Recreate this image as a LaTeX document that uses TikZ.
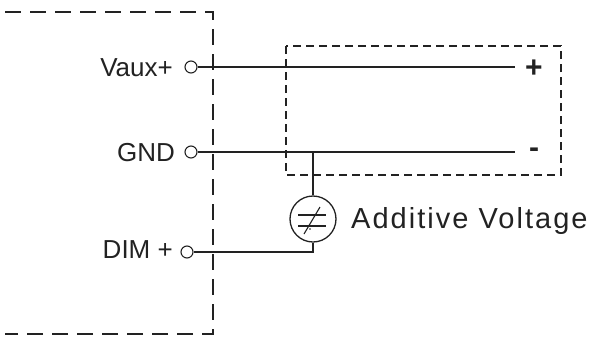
\documentclass[tikz,border=0pt]{standalone}
\usepackage{fontspec}
\setmainfont{Liberation Sans}
\usepackage{tikz}
\usetikzlibrary{calc}
\definecolor{ink}{HTML}{222222}
\tikzset{
  wire/.style={draw=ink, line width=1.1pt},
  frame/.style={draw=ink, line width=1.4pt, dash pattern=on 16pt off 9pt},
  load/.style={draw=ink, line width=1.3pt, dash pattern=on 8pt off 5pt},
  term/.style={circle, draw=ink, line width=1.1pt, inner sep=0pt, minimum size=12pt},
  src/.style={circle, draw=ink, line width=1.3pt, inner sep=0pt, minimum size=46pt},
  lab/.style={text=ink, font=\fontsize{26}{28}\selectfont, anchor=base east, inner sep=0pt},
  pol/.style={text=ink, font=\bfseries\fontsize{30}{32}\selectfont, inner sep=0pt},
}

\begin{document}
\begin{tikzpicture}[x=1pt,y=-1pt]
  \useasboundingbox (0,0) rectangle (590,338);
  % dashed frames
  \draw[frame] (5,12) -- (213,12) -- (213,334) -- (5,334);
  \draw[load] (286,46) rectangle (561,175);

  % terminals
  \node[term] (vaux) at (191,67) {};
  \node[term] (gnd) at (191,152) {};
  \node[term] (dim) at (187,252) {};
  \node[lab] (vauxlab) at (173,76) {Vaux+};
  \node[lab] (gndlab) at (175,161) {GND};
  \node[lab] (dimlab) at (173,258) {DIM +};

  % load side
  \coordinate (vend) at (515,67);
  \coordinate (gend) at (515,152);
  \coordinate (tap) at (313,152);
  \node[pol] (plus) at (534,69) {+};
  \node[pol] (minus) at (534,153) {-};
  \draw[wire] (vaux) -- (vend);
  \draw[wire] (gnd) -- (gend);

  % additive source
  \node[src] (add) at (313,219) {};
  \draw[wire] (tap) -- (add.north);
  \draw[wire] (add.south) |- (dim);
  \draw[wire] ($(add)+(-15,-4)$) -- ($(add)+(13,-4)$);
  \draw[wire] ($(add)+(-15,7)$) -- ($(add)+(13,7)$);
  \draw[wire] ($(add)+(-9,15)$) -- ($(add)+(7,-12)$);
  \fill[ink] ($(add)+(-3,10)$) circle (0.9pt);
  \node[text=ink, anchor=base west, inner sep=0pt,
    font=\fontsize{29}{31}\selectfont\addfontfeature{LetterSpace=7}]
    (addlab) at (351,228) {Additive Voltage};
\end{tikzpicture}
\end{document}
